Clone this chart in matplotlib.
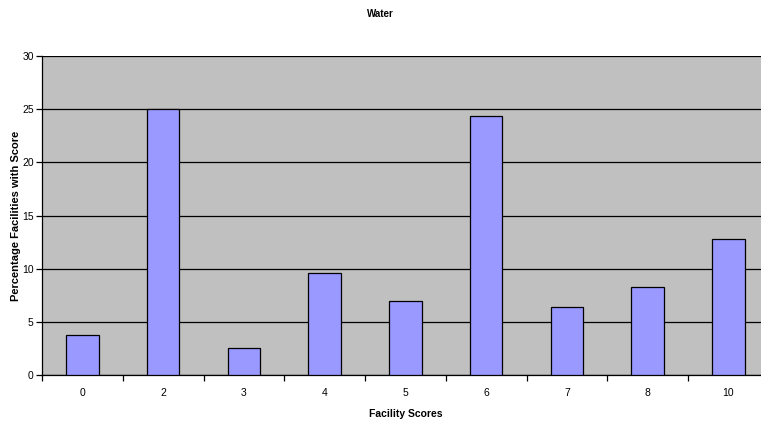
import numpy as np
import matplotlib.pyplot as plt

plt.rcParams['font.family'] = ['Liberation Sans', 'DejaVu Sans']

scores = ['0', '2', '3', '4', '5', '6', '7', '8', '10']
percent = [3.8, 25.0, 2.5, 9.6, 7.0, 24.4, 6.4, 8.3, 12.8]

fig = plt.figure(figsize=(7.61, 4.25), dpi=100)
ax = fig.add_axes([0.0552, 0.1176, 0.955, 0.7506])
ax.set_facecolor('#C0C0C0')

x = np.arange(len(scores))
ax.bar(x, percent, 0.4, color='#9999FF', edgecolor='black', linewidth=0.9, zorder=3)

ax.set_xlim(-0.5, len(scores) - 0.5)
ax.set_ylim(0, 30)
ax.set_yticks(range(0, 31, 5))
ax.yaxis.grid(True, color='black', linewidth=0.9, zorder=1)
ax.set_axisbelow(True)

# category labels centred, tick marks between categories
ax.set_xticks(x)
ax.set_xticklabels(scores)
ax.set_xticks(np.arange(-0.5, len(scores), 1), minor=True)
ax.tick_params(axis='x', which='major', length=0, pad=9, labelsize=7.5)
ax.tick_params(axis='x', which='minor', length=4, direction='out', width=0.9)
ax.tick_params(axis='y', length=4, direction='out', width=0.9, labelsize=7.5, pad=2)

for s in ['top', 'right']:
    ax.spines[s].set_visible(False)
for s in ['left', 'bottom']:
    ax.spines[s].set_linewidth(0.9)

ax.set_xlabel('Facility Scores', fontsize=7.5, fontweight='bold', labelpad=8)
ax.set_ylabel('Percentage Facilities with Score', fontsize=8, fontweight='bold', labelpad=1)
fig.text(0.5, 0.967, 'Water', ha='center', va='center', fontsize=7, fontweight='bold')

fig.savefig('out.png', dpi=100)
